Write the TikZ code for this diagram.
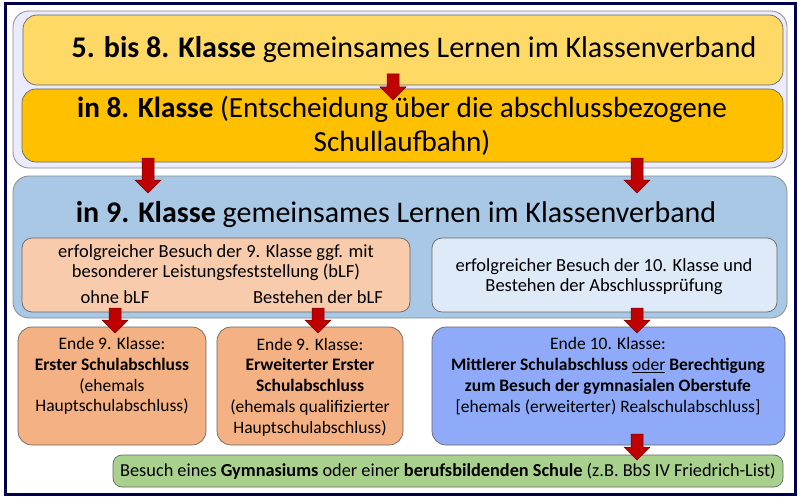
\documentclass[tikz,border=0pt]{standalone}
\usepackage{fontspec}
\setmainfont{Carlito}
\begin{document}
\begin{tikzpicture}[x=1pt,y=-1pt,
  bx/.style={draw=black!60,rounded corners=14pt,line width=0.7pt},
  grp/.style={draw=black!45,rounded corners=16pt,line width=0.8pt},
  tx/.style={align=center,font=\fontsize{18.5}{20}\selectfont,inner sep=0pt},
  bt/.style={tx,font=\fontsize{17.5}{20.8}\selectfont},
  barrow/.style={fill=red!75!black,draw=red!45!black,line width=0.5pt}]
\def\barr#1#2#3{\draw[barrow] (#1-6,#2) -- (#1+6,#2) -- (#1+6,#3-13) -- (#1+13,#3-13) -- (#1,#3) -- (#1-13,#3-13) -- (#1-6,#3-13) -- cycle;}
\useasboundingbox (0,0) rectangle (800,500);
\fill[white] (0,0) rectangle (800,500);
\draw[draw=blue!30!black,line width=3pt] (5,4) rectangle (795,494);
% upper group
\draw[grp,fill=blue!8!white] (13,11) rectangle (787,168);
\draw[bx,fill={rgb,255:red,255;green,217;blue,102}] (23,15) rectangle (783,85);
\node[tx,font=\fontsize{30}{36}\selectfont] (t1) at (414,50) {\textbf{5. bis 8. Klasse} gemeinsames Lernen im Klassenverband};
\draw[bx,fill={rgb,255:red,255;green,192;blue,0}] (22,89) rectangle (783,162);
\node[tx,font=\fontsize{29.2}{34}\selectfont] (t2) at (402,126) {\textbf{in 8. Klasse} (Entscheidung über die abschlussbezogene\\Schullaufbahn)};
\barr{393}{74}{100}
% blue group
\draw[grp,fill={rgb,255:red,169;green,200;blue,230}] (13,176) rectangle (787,318);
\node[tx,font=\fontsize{30}{36}\selectfont] (t3) at (396,215) {\textbf{in 9. Klasse} gemeinsames Lernen im Klassenverband};
\barr{148}{158}{193}
\barr{637}{158}{193}
\draw[bx,rounded corners=10pt,fill={rgb,255:red,248;green,203;blue,173}] (22,238) rectangle (410,312);
\node[tx] (p1) at (216,263) {erfolgreicher Besuch der 9. Klasse ggf. mit\\besonderer Leistungsfeststellung (bLF)};
\node[tx] (p2) at (115,297) {ohne bLF};
\node[tx] (p3) at (318,297) {Bestehen der bLF};
\draw[bx,rounded corners=10pt,fill={rgb,255:red,222;green,234;blue,247}] (432,238) rectangle (777,312);
\node[tx] (q1) at (604,277) {erfolgreicher Besuch der 10. Klasse und\\Bestehen der Abschlussprüfung};
% bottom boxes
\draw[bx,fill={rgb,255:red,244;green,177;blue,131}] (18,327) rectangle (206,445);
\node[bt] (e1) at (112,376) {Ende 9. Klasse:\\\textbf{Erster Schulabschluss}\\(ehemals\\Hauptschulabschluss)};
\draw[bx,fill={rgb,255:red,244;green,177;blue,131}] (217,327) rectangle (403,445);
\node[bt] (e2) at (310,387) {Ende 9. Klasse:\\\textbf{Erweiterter Erster}\\\textbf{Schulabschluss}\\(ehemals qualifizierter\\Hauptschulabschluss)};
\draw[bx,fill={rgb,255:red,143;green,170;blue,248}] (432,327) rectangle (785,445);
\node[bt] (e3) at (608,376) {Ende 10. Klasse:\\\textbf{Mittlerer Schulabschluss} \underline{oder} \textbf{Berechtigung}\\\textbf{zum Besuch der gymnasialen Oberstufe}\\{[}ehemals (erweiterter) Realschulabschluss{]}};
\barr{115}{308}{333}
\barr{318}{308}{333}
\barr{637}{308}{333}
\draw[bx,rounded corners=9pt,fill={rgb,255:red,169;green,209;blue,142}] (113,455) rectangle (783,487);
\node[tx,font=\fontsize{18.3}{20}\selectfont] (g) at (448,471) {Besuch eines \textbf{Gymnasiums} oder einer \textbf{berufsbildenden Schule} (z.B. BbS IV Friedrich-List)};
\barr{637}{434}{460}
\end{tikzpicture}
\end{document}
